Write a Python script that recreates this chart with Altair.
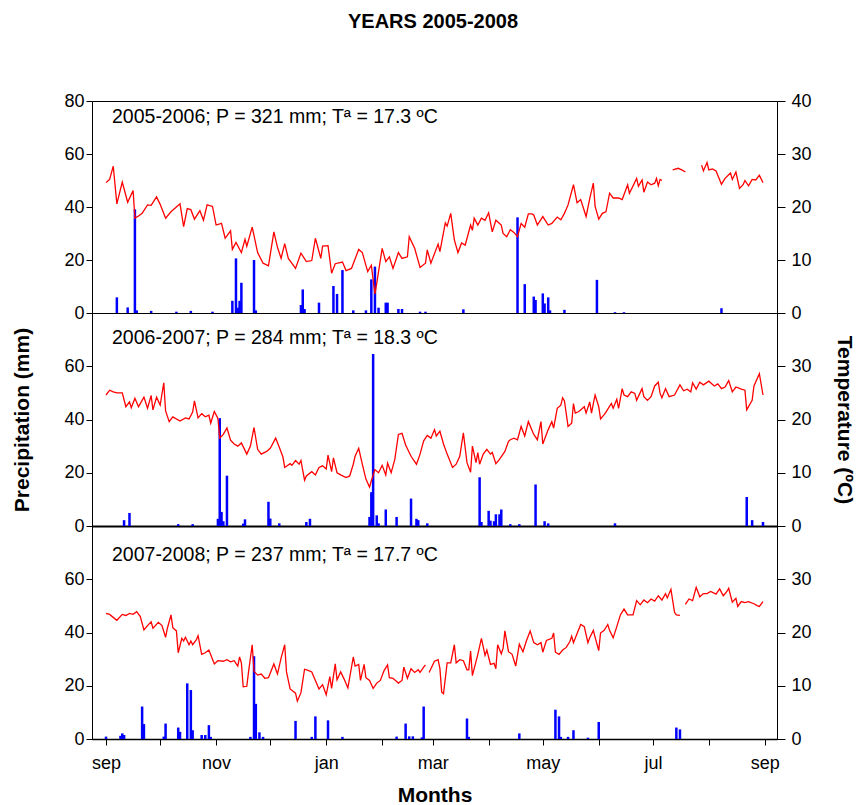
import altair as alt
import pandas as pd

FONT = "Liberation Sans"

# ---------------- axis / label data ----------------
month_days = [0, 30, 61, 91, 122, 153, 181, 212, 242, 273, 303, 334, 365]
month_names = ["sep", "", "nov", "", "jan", "", "mar", "", "may", "", "jul", "", "sep"]
precip_ticks_top = [0, 20, 40, 60, 80]
precip_ticks = [0, 20, 40, 60]
temp_ticks_top = [0, 10, 20, 30, 40]
temp_ticks = [0, 10, 20, 30]
panel_labels = [
    "2005-2006; P = 321 mm; Tª = 17.3 ºC",
    "2006-2007; P = 284 mm; Tª = 18.3 ºC",
    "2007-2008; P = 237 mm; Tª = 17.7 ºC",
]

# ---------------- 2005-2006 ----------------
t1_day = [0, 1, 2, 4, 6, 9, 12, 15, 16, 18, 20, 23, 25, 28, 30, 33, 36, 41, 43, 45, 47, 49, 52, 54, 56, 59,
          61, 64, 66, 69, 70, 72, 75, 77, 78, 81, 84, 87, 90, 93, 95, 97, 99, 101, 105, 108, 111, 114, 116, 119,
          120, 123, 125, 127, 131, 133, 136, 140, 142, 145, 147, 149, 150, 153, 155, 157, 159, 162, 164, 167, 168,
          171, 174, 177, 178, 180, 184, 185, 188, 189, 191, 193, 195, 197, 199, 202, 203, 204, 206, 208, 210, 212,
          214, 216, 219, 220, 222, 224, 226, 228, 230, 232, 234, 236, 237, 239, 242, 245, 247, 250, 252, 254, 256,
          259, 261, 263, 266, 268, 270, 271, 273, 275, 277, 279, 281, 284, 286, 289, 290, 294, 295, 297, 298, 300,
          302, 304, 305, 306, 307, 308,
          314, 317, 319, 321,
          330, 331, 333, 334, 336, 338, 341, 343, 346, 347, 349, 351, 353, 354, 356, 358, 360, 362, 364]
t1_val = [24.6, 24.9, 25.2, 27.7, 20.6, 24.7, 20.9, 23.1, 17.9, 18.3, 18.8, 20.4, 20.3, 21.9, 20.5, 17.9, 19.1, 20.6,
          16.3, 19.7, 19.5, 17.7, 19.3, 17.5, 20.4, 20.1,
          16.6, 16.9, 14.1, 15.5, 12.0, 13.3, 11.4, 13.9, 12.6, 16.2, 11.4, 9.4, 8.9, 15.3, 12.4, 10.3, 13.1, 10.3,
          8.4, 11.3, 9.7, 9.9, 14.1, 10.3,
          12.6, 12.7, 7.5, 9.3, 9.6, 8.0, 8.4, 12.0, 11.4, 7.8, 9.0, 3.6, 5.6, 12.2, 9.7, 10.6, 8.4, 11.4, 10.3,
          10.6, 14.4,
          12.2, 8.6, 9.4, 11.9, 9.4, 13.0, 11.6, 17.0, 16.4, 18.8, 13.8, 11.4, 13.2, 12.8, 16.6, 15.6, 17.9, 16.6,
          17.9, 17.5, 18.9,
          15.3, 17.5, 16.6, 15.0, 14.4, 15.7, 15.2, 14.4, 16.9, 16.2, 18.7, 18.7, 18.5, 16.6, 18.2, 16.6, 16.9,
          18.1, 17.6, 18.8, 20.4,
          24.2, 20.8, 21.4, 18.2, 21.6, 24.5, 20.1, 17.7, 18.8, 19.1, 22.6, 21.7, 21.7, 21.4, 24.2, 22.6, 25.4,
          23.9, 25.1, 22.8, 24.7,
          24.2, 24.5, 25.4, 24.0, 25.2, 25.0,
          27.0, 27.3, 27.0, 26.6,
          27.9, 26.8, 28.4, 27.0, 27.2, 26.8, 24.3, 25.4, 26.4, 25.2, 26.6, 23.5, 24.2, 25.0, 24.0, 25.2, 25.1,
          26.0, 24.6]
t1_breaks = [314, 330]
p1_day = [6, 12, 16, 17, 25, 39, 47, 59, 70, 72, 73, 74, 75, 82, 83, 108, 109, 110, 118, 126, 128, 131, 137, 144,
          147, 149, 151, 155, 156, 162, 164, 174, 177, 198, 228, 232, 237, 238, 242, 243, 245, 246, 254, 272, 282,
          287, 341]
p1_mm = [5.9, 2.1, 39.1, 1.0, 0.8, 0.5, 0.8, 0.5, 4.6, 20.6, 2.0, 4.6, 11.4, 20.0, 1.0, 3.0, 8.9, 1.5, 3.9, 10.2,
         7.2, 16.2, 1.0, 1.0, 12.7, 17.5, 2.0, 3.9, 3.9, 1.5, 1.5, 0.5, 0.5, 1.4, 36.1, 10.9, 6.2, 4.9, 7.4, 3.6,
         5.9, 1.0, 1.2, 12.5, 0.3, 0.3, 1.8]

# ---------------- 2006-2007 ----------------
t2_day = [0, 2, 4, 6, 9, 11, 13, 14, 16, 18, 21, 23, 25, 26, 28, 30, 32, 33, 35, 37, 41, 44, 46, 48, 49, 51, 53,
          55, 57, 58, 60, 62, 63, 65, 67, 69, 71, 73, 75, 78, 80, 82, 84, 86, 89, 91, 94, 96, 98, 99, 102, 103,
          105, 107, 108, 110, 111, 114, 116, 118, 120, 122, 123, 125, 126, 128, 130, 133, 135, 137, 138, 140, 142,
          144, 146, 147, 149, 151, 153, 155, 156, 158, 160, 162, 164, 166, 169, 172, 174, 176, 178, 180, 182, 183,
          185, 187, 189, 192, 194, 196, 198, 200, 202, 203, 205, 206, 207, 209, 211, 213, 214, 216, 218, 221, 223,
          224, 226, 228, 230, 232, 234, 237, 239, 241, 242, 245, 247, 248, 250, 252, 253, 254, 256, 258, 259, 260,
          262, 265, 266, 268, 269, 270, 271, 273, 274, 276, 277, 280, 281, 283, 284, 286, 287, 289, 291, 293, 294,
          297, 298, 300, 302, 304, 306, 307, 308, 310, 312, 315, 318, 320, 322, 324, 325, 327, 329, 331, 334, 337,
          339, 341, 343, 345, 347, 349, 352, 354, 355, 358, 359, 362, 364]
t2_val = [24.6, 25.5, 25.2, 25.0, 25.0, 22.4, 23.3, 22.2, 24.0, 22.4, 24.2, 22.1, 24.5, 21.8, 24.2, 22.7, 26.9,
          21.6, 19.6, 20.5, 19.7, 20.3, 20.1, 21.4, 23.5, 20.3, 21.1,
          20.5, 20.8, 19.3, 21.5, 20.2, 16.5, 17.2, 18.4, 16.1, 15.4, 15.0, 15.6, 13.5, 15.0, 18.5, 14.4, 13.5,
          14.0, 14.6, 16.5, 14.8, 13.0, 11.0, 11.7, 11.4,
          12.3, 11.6, 12.3, 8.6, 9.4, 10.2, 9.6, 11.0, 11.3, 10.7, 13.3, 10.2, 12.8, 10.0, 9.6, 9.1, 9.4, 11.6,
          13.1, 14.6, 11.6,
          8.8, 7.3, 8.5, 10.6, 10.0, 11.4, 9.6, 11.8, 10.0, 12.5, 17.2, 17.4, 15.2, 13.1, 11.6, 13.5, 16.0, 17.0,
          16.5, 18.1, 16.9,
          17.8, 15.4, 13.5, 11.0, 11.6, 13.1, 17.5, 11.9, 10.1, 15.0, 11.9, 13.8, 11.6, 13.5, 14.4, 13.5, 13.8,
          11.7, 12.5, 14.0, 15.9,
          16.2, 16.5, 16.2, 18.7, 16.9, 19.6, 17.2, 16.2, 19.6, 15.4, 18.1, 19.6, 18.4, 22.1, 22.7, 24.1, 23.5,
          18.7, 19.3, 23.0, 21.2,
          21.5, 22.4, 21.2, 23.3, 21.2, 23.0, 24.6, 22.4, 20.1, 20.9, 21.4, 23.0, 22.1, 23.8, 22.1, 25.8, 24.6,
          24.3, 25.2, 24.9, 23.6,
          25.8, 24.3, 23.6, 24.3, 26.3, 27.0, 24.9, 24.1, 25.8, 24.3, 24.6, 26.5, 25.4, 25.7, 25.2, 26.9, 25.7,
          27.0, 26.5, 27.2, 26.3,
          26.7, 25.8, 26.1, 27.3, 25.2, 26.1, 25.7, 25.5, 21.8, 23.6, 26.3, 28.6, 24.6]
t2_breaks = []
p2_day = [10, 13, 40, 48, 62, 63, 64, 65, 67, 76, 77, 90, 91, 96, 111, 113, 146, 147, 148, 150, 151, 155, 161, 169,
          172, 173, 178, 207, 208, 212, 213, 215, 216, 218, 219, 224, 229, 238, 243, 245, 282, 355, 358, 364]
p2_mm = [2.2, 4.9, 0.7, 0.7, 2.7, 40.5, 5.3, 1.8, 18.9, 0.9, 2.5, 9.1, 2.8, 1.0, 1.5, 2.7, 3.4, 12.7, 64.6, 4.0,
         1.0, 6.2, 3.4, 10.3, 2.7, 2.2, 1.0, 18.3, 1.5, 5.7, 2.0, 1.8, 4.4, 4.4, 6.2, 0.7, 0.7, 15.6, 1.8, 1.0, 1.0,
         10.9, 2.2, 1.5]

# ---------------- 2007-2008 ----------------
t3_day = [0, 2, 6, 9, 11, 13, 15, 17, 19, 21, 23, 25, 26, 29, 31, 33, 34, 36, 37, 39, 40, 42, 43, 44, 46, 47, 48,
          50, 51, 53, 55, 57, 60, 62, 65, 67, 69, 71, 73, 74, 75, 76, 78, 79, 81, 82, 84, 86, 88, 90, 93, 95, 97,
          99, 100, 102, 105, 106, 108, 110, 112, 114, 116, 118, 120, 122, 124, 125, 127, 128, 130, 132, 134, 137,
          138, 140, 141, 143, 144, 146, 148, 150, 152, 154, 156, 157, 159, 162, 164, 165, 167, 169, 171, 173, 174,
          176, 177,
          179, 182, 184, 185, 186, 187, 189, 191, 193, 194, 196, 198, 200, 201, 202, 203, 206, 208, 210, 211, 213,
          215, 216, 217, 219, 220, 221, 223, 225, 227, 229, 231, 233, 235, 237, 239, 241, 242, 244, 247, 248, 249,
          251, 253, 255, 257, 258, 259, 263, 265, 267, 268, 270, 271, 273, 274, 276, 278, 279, 281, 283, 285, 287,
          289, 292, 294, 296, 298, 300, 302, 304, 306, 308, 310, 311, 313, 315, 316, 318,
          321, 323, 325, 327, 329, 331, 333, 335, 338, 340, 342, 344, 345, 347, 349, 350, 352, 354, 356, 359, 361,
          362, 364]
t3_val = [23.6, 23.4, 22.3, 23.4, 23.2, 23.6, 23.4, 23.9, 23.0, 20.5, 21.3, 22.0, 20.8, 21.9, 21.3, 19.1, 20.8,
          23.3, 20.9, 20.3, 16.2, 18.9, 18.4, 19.1, 17.7, 18.4, 17.7,
          18.6, 19.4, 15.9, 16.2, 16.7, 14.1, 14.7, 14.6, 14.9, 14.5, 14.7, 13.7, 15.4, 14.3, 9.8, 9.9, 12.7, 17.7,
          12.7, 12.0, 12.2, 11.4, 11.5, 14.1, 12.2, 15.2,
          17.7, 12.6, 9.4, 8.6, 7.1, 8.7, 13.1, 12.9, 12.6, 11.0, 9.4, 10.2, 8.3, 11.7, 9.5, 14.1, 11.1, 12.6, 11.2,
          9.6, 15.4,
          13.7, 14.0, 11.0, 14.0, 11.5, 11.0, 9.5, 10.5, 11.0, 12.8, 13.9, 11.5, 11.4, 10.5, 11.0, 13.5, 11.4, 13.2,
          12.5, 13.0, 12.5,
          13.5, 13.9,
          12.5, 14.6, 14.9, 13.2, 8.8, 8.5, 14.3, 14.3, 17.7, 14.3, 14.9, 14.7, 13.0, 13.0, 16.5, 11.9, 15.9, 18.9,
          15.7, 16.7, 14.0,
          14.2, 13.2, 17.7, 16.0, 17.0, 20.3, 16.4, 15.9, 13.7, 17.8, 16.4, 18.5, 20.3, 18.1, 17.7, 18.1, 16.3,
          18.5, 18.9, 19.9, 16.3,
          15.9, 16.7, 17.2, 18.3, 19.3, 18.1, 21.5, 21.1, 18.1, 19.0, 20.4, 19.1, 16.6, 19.9, 20.4, 21.5, 20.4,
          19.0, 21.1, 23.3, 24.4,
          23.3, 23.3, 26.0, 25.2, 26.1, 25.6, 26.3, 25.9, 26.9, 26.1, 27.3, 26.5, 28.1, 23.8, 23.3, 23.2,
          25.3, 26.3, 26.0, 28.5, 26.7, 27.3, 27.3, 27.7, 27.2, 28.2, 26.9, 27.7, 28.3, 25.7, 26.4, 24.9, 25.8,
          25.6, 25.8, 25.4, 25.0,
          24.9, 25.8]
t3_breaks = [179, 321]
p3_day = [0, 8, 9, 10, 20, 21, 32, 33, 40, 41, 45, 47, 48, 53, 55, 57, 58, 80, 82, 83, 85, 87, 105, 114, 116, 123,
          131, 161, 166, 168, 170, 175, 176, 200, 201, 229, 249, 251, 252, 256, 259, 267, 273, 316, 318]
p3_mm = [0.9, 1.2, 2.1, 1.5, 12.2, 5.6, 0.9, 5.8, 4.3, 2.7, 20.9, 18.4, 3.3, 1.5, 1.5, 5.2, 0.8, 0.8, 31.1, 13.2,
         2.5, 0.8, 6.8, 0.8, 8.5, 7.0, 0.8, 0.9, 5.8, 1.0, 1.0, 0.6, 12.2, 7.7, 0.8, 2.1, 11.0, 8.5, 0.8, 0.8, 3.3,
         0.5, 6.4, 4.3, 3.6]

# ---------------- chart ----------------
label_expr = " : ".join(
    f"datum.value == {d} ? '{n}'" for d, n in zip(month_days, month_names) if n
) + " : ''"

X_DOMAIN = [-5, 369]


def panel(pday, pmm, tday, tval, breaks, label, lticks, rticks, h, bottom, mid, text_y):
    pdf = pd.DataFrame({"day": pday, "mm": pmm})
    seg = [sum(1 for b in breaks if d >= b) for d in tday]
    tdf = pd.DataFrame({"day": tday, "t": tval, "seg": seg})
    xscale = alt.Scale(domain=X_DOMAIN, nice=False, zero=False)
    if bottom:
        xaxis = alt.Axis(values=month_days, labelExpr=label_expr, tickSize=6, labelPadding=9,
                         labelFontSize=18, labelFlush=False, labelOverlap=False, grid=False,
                         domain=True, domainWidth=1.5, title="Months", titleFontSize=21,
                         titleFontWeight="bold", titlePadding=12)
    else:
        xaxis = alt.Axis(labels=False, ticks=False, grid=False, domain=True,
                         domainWidth=(2 if mid else 1), title=None)
    laxis = dict(orient="left", values=lticks, tickSize=6, labelPadding=2, labelFontSize=18,
                 grid=False, labelOverlap=False, labelFlush=False)
    raxis = dict(orient="right", values=rticks, tickSize=8, labelPadding=6, labelFontSize=18,
                 grid=False, labelOverlap=False, labelFlush=False)
    if mid:
        laxis.update(title="Precipitation (mm)", titleFontSize=21, titleFontWeight="bold", titlePadding=31)
        raxis.update(title="Temperature (ºC)", titleFontSize=21, titleFontWeight="bold", titlePadding=22)
    else:
        laxis.update(title=None)
        raxis.update(title=None)
    bars = alt.Chart(pdf).mark_bar(color="#0000FF", width=2.5).encode(
        x=alt.X("day:Q", scale=xscale, axis=xaxis),
        y=alt.Y("mm:Q", scale=alt.Scale(domain=[0, 80], nice=False, zero=True), axis=alt.Axis(**laxis)),
    )
    line = alt.Chart(tdf).mark_line(color="#FF0000", strokeWidth=1.3).encode(
        x=alt.X("day:Q", scale=xscale, axis=xaxis),
        y=alt.Y("t:Q", scale=alt.Scale(domain=[0, 40], nice=False, zero=True), axis=alt.Axis(**raxis)),
        detail="seg:N",
    )
    txt = alt.Chart(pd.DataFrame({"label": [label]})).mark_text(
        align="left", baseline="middle", fontSize=19.5, font=FONT, color="black"
    ).encode(x=alt.value(20), y=alt.value(text_y), text="label:N")
    return alt.layer(bars, line, txt).resolve_scale(y="independent").properties(width=685, height=h)


p1 = panel(p1_day, p1_mm, t1_day, t1_val, t1_breaks, panel_labels[0], precip_ticks_top, temp_ticks_top,
           212, False, False, 16)
p2 = panel(p2_day, p2_mm, t2_day, t2_val, t2_breaks, panel_labels[1], precip_ticks, temp_ticks,
           213, False, True, 25)
p3 = panel(p3_day, p3_mm, t3_day, t3_val, t3_breaks, panel_labels[2], precip_ticks, temp_ticks,
           213, True, False, 29)

chart = alt.vconcat(p1, p2, p3, spacing=0, bounds="flush").resolve_scale(
    x="independent", y="independent"
).properties(
    title=alt.TitleParams("YEARS 2005-2008", fontSize=20, font=FONT, fontWeight="bold", anchor="middle",
                          offset=60, color="black"),
    padding={"left": 11, "top": 11, "right": 2, "bottom": 2},
).configure_view(stroke="black", strokeWidth=1).configure_axis(
    labelFont=FONT, titleFont=FONT, labelColor="black", titleColor="black",
    domainColor="black", tickColor="black", tickWidth=1, domainWidth=1,
).configure_text(font=FONT)

chart.save("out.html", embed_options={"renderer": "svg", "actions": False})
